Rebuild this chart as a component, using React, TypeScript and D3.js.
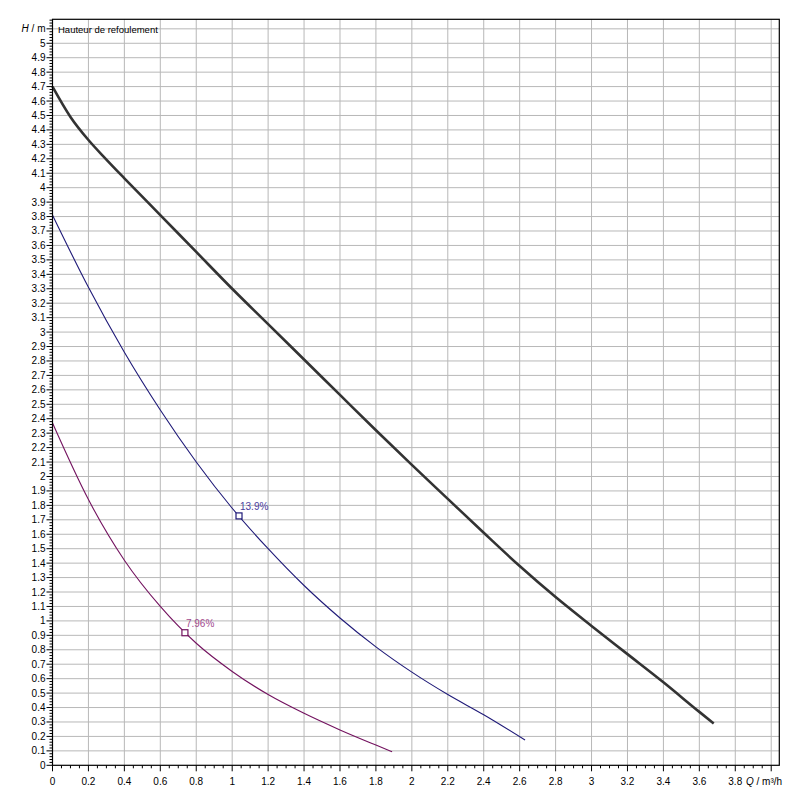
import React from 'react'
import * as d3 from 'd3'

// pump curves: Q in m³/h, H in m
const maxQ = [0, 0.1, 0.2, 0.3, 0.4, 0.6, 0.8, 1.0, 1.2, 1.4, 1.6, 1.8, 2.0, 2.2, 2.4, 2.6, 2.8, 3.0, 3.2, 3.4, 3.6, 3.68]
const maxH = [4.7, 4.49, 4.33, 4.195, 4.065, 3.81, 3.555, 3.3, 3.055, 2.81, 2.565, 2.32, 2.08, 1.845, 1.61, 1.38, 1.165, 0.965, 0.77, 0.575, 0.37, 0.29]

const midQ = [0, 0.2, 0.4, 0.6, 0.8, 1.0, 1.2, 1.4, 1.6, 1.8, 2.0, 2.2, 2.4, 2.63]
const midH = [3.81, 3.31, 2.86, 2.46, 2.1, 1.78, 1.5, 1.245, 1.02, 0.82, 0.645, 0.49, 0.35, 0.175]

const lowQ = [0, 0.2, 0.4, 0.6, 0.8, 1.0, 1.2, 1.4, 1.6, 1.8, 1.89]
const lowH = [2.37, 1.84, 1.42, 1.1, 0.845, 0.65, 0.49, 0.36, 0.245, 0.14, 0.094]

const markers = [
  { q: 1.038, h: 1.727, label: '13.9%', stroke: '#1f1a78', text: '#4b3d9e' },
  { q: 0.737, h: 0.918, label: '7.96%', stroke: '#73125f', text: '#a24a8e' },
]

const xLabels = [0, 0.2, 0.4, 0.6, 0.8, 1, 1.2, 1.4, 1.6, 1.8, 2, 2.2, 2.4, 2.6, 2.8, 3, 3.2, 3.4, 3.6, 3.8]
const yLabelMax = 5

const font = '"Liberation Sans", Arial, sans-serif'

export default () => {
  const x = d3.scaleLinear().domain([0, 4.045]).range([52.5, 779.3])
  const y = d3.scaleLinear().domain([0, 5.166]).range([765.3, 19.3])

  const line = d3
    .line<[number, number]>()
    .x(d => x(d[0]))
    .y(d => y(d[1]))
    .curve(d3.curveMonotoneX)

  const zip = (qs: number[], hs: number[]) => qs.map((q, i) => [q, hs[i]] as [number, number])

  const xMajor = d3.range(0, 41, 2).map(v => v / 10)
  const xMinor = d3.range(0, 81).map(v => v / 20)
  const yMajor = d3.range(0, 52).map(v => v / 10)
  const yMinor = d3.range(0, 259).map(v => v / 50)

  const [x0, x1] = x.range()
  const [y0, y1] = y.range()

  return (
    <svg width={806} height={806} style={{ position: 'absolute', left: 0, top: 0, background: '#fff' }} fontFamily={font}>
      {/* grid */}
      <g stroke="#b8b8b8" strokeWidth={1}>
        {xMajor.filter(v => v > 0).map(v => (
          <line key={'gx' + v} x1={x(v)} x2={x(v)} y1={y0} y2={y1} />
        ))}
        {yMajor.filter(v => v > 0).map(v => (
          <line key={'gy' + v} x1={x0} x2={x1} y1={y(v)} y2={y(v)} />
        ))}
      </g>

      {/* curves */}
      <path d={line(zip(lowQ, lowH)) as string} fill="none" stroke="#73125f" strokeWidth={1.1} />
      <path d={line(zip(midQ, midH)) as string} fill="none" stroke="#1f1a78" strokeWidth={1.1} />
      <path d={line(zip(maxQ, maxH)) as string} fill="none" stroke="#333" strokeWidth={2.6} />

      {markers.map(m => (
        <g key={m.label}>
          <rect x={x(m.q) - 3} y={y(m.h) - 3} width={6} height={6} fill="#fff" stroke={m.stroke} strokeWidth={1.2} />
          <text x={x(m.q) + 1} y={y(m.h) - 6} fontSize={10} fill={m.text}>
            {m.label}
          </text>
        </g>
      ))}

      {/* frame */}
      <rect x={x0} y={y1} width={x1 - x0} height={y0 - y1} fill="none" stroke="#000" strokeWidth={1.2} />

      {/* ticks */}
      <g stroke="#000" strokeWidth={1}>
        {xMinor.map(v => (
          <line key={'tx' + v} x1={x(v)} x2={x(v)} y1={y0} y2={y0 + (Math.round(v * 20) % 4 === 0 ? 6 : 3)} />
        ))}
        {yMinor.map(v => (
          <line key={'ty' + v} y1={y(v)} y2={y(v)} x1={x0} x2={x0 - (Math.round(v * 50) % 5 === 0 ? 6 : 3)} />
        ))}
      </g>

      <g fontSize={10} fill="#000" textAnchor="middle">
        {xLabels.map(v => (
          <text key={'lx' + v} x={x(v)} y={785}>
            {String(+v.toFixed(1))}
          </text>
        ))}
      </g>
      <g fontSize={10} fill="#000" textAnchor="end">
        {yMajor.filter(v => v <= yLabelMax + 1e-9).map(v => (
          <text key={'ly' + v} x={45.5} y={y(v) + 3.5}>
            {String(+v.toFixed(1))}
          </text>
        ))}
      </g>

      {/* axis titles */}
      <text x={45.5} y={y(5.1) + 3.5} fontSize={10} textAnchor="end">
        <tspan fontStyle="italic">H</tspan>
        <tspan> / m</tspan>
      </text>
      <text x={746} y={785} fontSize={10}>
        <tspan fontStyle="italic">Q</tspan>
        <tspan> / m³/h</tspan>
      </text>
      <text x={58} y={33} fontSize={9.5}>
        Hauteur de refoulement
      </text>
    </svg>
  )
}
